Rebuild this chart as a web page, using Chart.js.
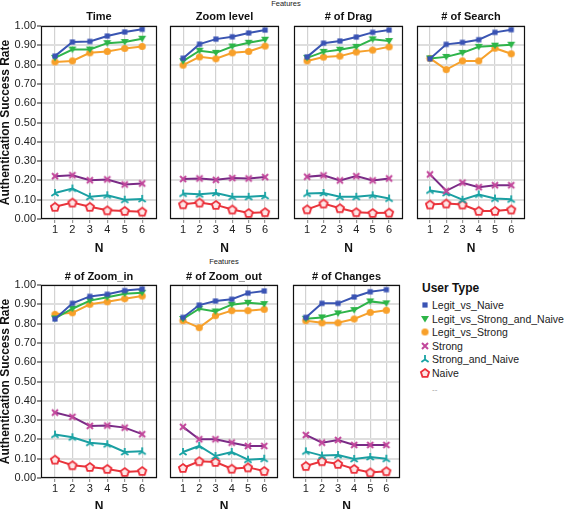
<!DOCTYPE html>
<html>
<head>
<meta charset="utf-8">
<script src="https://cdn.jsdelivr.net/npm/chart.js@4.4.1/dist/chart.umd.min.js"></script>
<style>
  html, body { margin: 0; padding: 0; background: #fff; overflow: hidden; }
  body { width: 565px; height: 509px; position: relative; font-family: "Liberation Sans", Arial, sans-serif; color: #222; }
  canvas.panel { position: absolute; }
  .txt { position: absolute; white-space: nowrap; }
</style>
</head>
<body>
<div class="txt" style="left:256px;top:0px;width:60px;text-align:center;font-size:7.5px;line-height:8px;">Features</div>
<div class="txt" style="left:194px;top:258px;width:60px;text-align:center;font-size:7.5px;line-height:8px;">Features</div>
<div id="legend"></div>

<script>
// ---- data ----
const nValues = [1, 2, 3, 4, 5, 6];
const yTicks = [0, 0.1, 0.2, 0.3, 0.4, 0.5, 0.6, 0.7, 0.8, 0.9, 1.0];
const features = ['Time', 'Zoom level', '# of Drag', '# of Search', '# of Zoom_in', '# of Zoom_out', '# of Changes'];
const userTypes = ['Legit_vs_Naive', 'Legit_vs_Strong_and_Naive', 'Legit_vs_Strong', 'Strong', 'Strong_and_Naive', 'Naive'];

// one row per feature, in the order of `features`
const legitVsNaive = [
  [0.844, 0.917, 0.920, 0.948, 0.969, 0.983],
  [0.833, 0.906, 0.932, 0.944, 0.964, 0.979],
  [0.840, 0.911, 0.922, 0.943, 0.967, 0.979],
  [0.830, 0.905, 0.915, 0.929, 0.967, 0.981],
  [0.824, 0.905, 0.941, 0.952, 0.971, 0.979],
  [0.832, 0.896, 0.917, 0.926, 0.958, 0.969],
  [0.832, 0.905, 0.905, 0.938, 0.965, 0.976]
];
const legitVsStrongAndNaive = [
  [0.835, 0.878, 0.878, 0.911, 0.917, 0.934],
  [0.818, 0.872, 0.861, 0.894, 0.913, 0.929],
  [0.835, 0.866, 0.877, 0.892, 0.931, 0.922],
  [0.832, 0.840, 0.861, 0.892, 0.898, 0.903],
  [0.827, 0.877, 0.919, 0.936, 0.955, 0.960],
  [0.824, 0.877, 0.863, 0.898, 0.908, 0.901],
  [0.825, 0.832, 0.853, 0.870, 0.915, 0.905]
];
const legitVsStrong = [
  [0.814, 0.819, 0.861, 0.868, 0.884, 0.894],
  [0.797, 0.840, 0.830, 0.861, 0.868, 0.896],
  [0.819, 0.839, 0.844, 0.865, 0.875, 0.892],
  [0.832, 0.774, 0.819, 0.819, 0.885, 0.856],
  [0.848, 0.856, 0.900, 0.913, 0.929, 0.943],
  [0.815, 0.779, 0.841, 0.867, 0.867, 0.874],
  [0.815, 0.804, 0.804, 0.824, 0.858, 0.869]
];
const strong = [
  [0.222, 0.227, 0.201, 0.205, 0.179, 0.184],
  [0.207, 0.210, 0.203, 0.212, 0.210, 0.217],
  [0.219, 0.226, 0.200, 0.222, 0.200, 0.210],
  [0.231, 0.146, 0.188, 0.165, 0.175, 0.175],
  [0.339, 0.317, 0.270, 0.272, 0.261, 0.227],
  [0.265, 0.201, 0.201, 0.183, 0.166, 0.166],
  [0.223, 0.183, 0.197, 0.171, 0.171, 0.171]
];
const strongAndNaive = [
  [0.135, 0.158, 0.115, 0.123, 0.100, 0.104],
  [0.132, 0.128, 0.135, 0.115, 0.115, 0.120],
  [0.132, 0.135, 0.115, 0.115, 0.123, 0.106],
  [0.148, 0.135, 0.100, 0.127, 0.106, 0.102],
  [0.225, 0.211, 0.183, 0.175, 0.135, 0.138],
  [0.135, 0.166, 0.114, 0.135, 0.095, 0.100],
  [0.138, 0.116, 0.119, 0.099, 0.109, 0.100]
];
const naive = [
  [0.063, 0.085, 0.063, 0.045, 0.042, 0.038],
  [0.076, 0.085, 0.073, 0.049, 0.031, 0.035],
  [0.050, 0.080, 0.056, 0.035, 0.031, 0.033],
  [0.075, 0.080, 0.075, 0.042, 0.042, 0.049],
  [0.095, 0.066, 0.057, 0.047, 0.031, 0.036],
  [0.052, 0.087, 0.083, 0.048, 0.055, 0.036],
  [0.062, 0.087, 0.073, 0.047, 0.029, 0.035]
];
const seriesByType = [legitVsNaive, legitVsStrongAndNaive, legitVsStrong, strong, strongAndNaive, naive];

// ---- styling / layout ----
const FONT = '"Liberation Sans", Arial, sans-serif';
Chart.defaults.font.family = FONT;
Chart.defaults.color = '#222';

const lineColors = ['#3a55b2', '#2fb44a', '#f6a12c', '#7a2b86', '#1b9fa2', '#e8343b'];

// plot-area boxes of the 7 panels (left, right) per row
const panelBoxes = [
  { left: 41, right: 162, row: 0 },
  { left: 164, right: 284, row: 0 },
  { left: 288, right: 408, row: 0 },
  { left: 411, right: 530, row: 0 },
  { left: 41, right: 162, row: 1 },
  { left: 164, right: 283, row: 1 },
  { left: 287, right: 405, row: 1 }
];
const rowTops = [8, 267];
const titlePad = [{ top: 2.4, bottom: 2.4 }, { top: 3.4, bottom: 1.4 }];
const nTitleShift = [-4, -3];

function markerCanvas(size, draw) {
  const c = document.createElement('canvas');
  c.width = size;
  c.height = size;
  const ctx = c.getContext('2d');
  ctx.translate(size / 2, size / 2);
  draw(ctx);
  return c;
}

const markers = [
  markerCanvas(8, ctx => { ctx.fillStyle = '#3a53b4'; ctx.fillRect(-2.6, -2.6, 5.2, 5.2); }),
  markerCanvas(10, ctx => {
    ctx.fillStyle = '#2db548';
    ctx.beginPath(); ctx.moveTo(-4, -3); ctx.lineTo(4, -3); ctx.lineTo(0, 3.6); ctx.closePath(); ctx.fill();
  }),
  markerCanvas(9, ctx => { ctx.fillStyle = '#f8a02a'; ctx.beginPath(); ctx.arc(0, 0, 3.6, 0, Math.PI * 2); ctx.fill(); }),
  markerCanvas(10, ctx => {
    ctx.strokeStyle = '#c2479b'; ctx.lineWidth = 2;
    ctx.beginPath(); ctx.moveTo(-3, -3); ctx.lineTo(3, 3); ctx.moveTo(3, -3); ctx.lineTo(-3, 3); ctx.stroke();
  }),
  markerCanvas(10, ctx => {
    ctx.strokeStyle = '#17a3a4'; ctx.lineWidth = 1.8;
    ctx.beginPath();
    ctx.moveTo(0, 0.5); ctx.lineTo(0, -4);
    ctx.moveTo(0, 0.5); ctx.lineTo(-3.6, 3);
    ctx.moveTo(0, 0.5); ctx.lineTo(3.6, 3);
    ctx.stroke();
  }),
  markerCanvas(12, ctx => {
    ctx.strokeStyle = '#ec2f3a'; ctx.lineWidth = 1.8; ctx.fillStyle = '#fde6e6';
    ctx.beginPath();
    for (let k = 0; k < 5; k++) {
      const a = -Math.PI / 2 + k * 2 * Math.PI / 5;
      const px = 4.3 * Math.cos(a), py = 4.3 * Math.sin(a) + 0.4;
      if (k === 0) ctx.moveTo(px, py); else ctx.lineTo(px, py);
    }
    ctx.closePath(); ctx.fill(); ctx.stroke();
  })
];

const framePlugin = {
  id: 'frame',
  afterDraw(chart) {
    const { ctx, chartArea: a } = chart;
    ctx.save();
    ctx.strokeStyle = '#111';
    ctx.lineWidth = 1.2;
    ctx.strokeRect(a.left + 0.5, a.top + 0.5, a.right - a.left - 1, a.bottom - a.top - 1);
    ctx.restore();
  }
};

panelBoxes.forEach((box, i) => {
  const firstInRow = i === 0 || i === 4;
  const yw = firstInRow ? 41 : 0;
  const plotW = box.right - box.left;
  const canvas = document.createElement('canvas');
  canvas.className = 'panel';
  const cw = yw + plotW + 1;
  const ch = 244;
  canvas.width = cw;
  canvas.height = ch;
  canvas.style.width = cw + 'px';
  canvas.style.height = ch + 'px';
  canvas.style.left = (box.left - yw) + 'px';
  canvas.style.top = rowTops[box.row] + 'px';
  document.body.appendChild(canvas);

  const datasets = userTypes.map((name, t) => ({
    label: name,
    data: seriesByType[t][i],
    borderColor: lineColors[t],
    backgroundColor: lineColors[t],
    borderWidth: 2,
    pointStyle: markers[t],
    pointRadius: 4,
    tension: 0,
    fill: false
  }));

  new Chart(canvas, {
    type: 'line',
    data: { labels: nValues, datasets },
    options: {
      responsive: false,
      animation: false,
      events: [],
      layout: { padding: { left: 0, right: 1, top: 0, bottom: 0 } },
      plugins: {
        legend: { display: false },
        tooltip: { enabled: false },
        title: {
          display: true,
          text: features[i],
          fullSize: false,
          color: '#111',
          font: { size: 11, weight: 'bold', lineHeight: 1.2 },
          padding: titlePad[box.row]
        }
      },
      scales: {
        x: {
          type: 'linear',
          min: 0.2,
          max: 6.85,
          afterBuildTicks: s => { s.ticks = nValues.map(v => ({ value: v })); },
          afterFit: s => { s.height = 33; },
          border: { display: false },
          grid: { color: '#d2d2d2', lineWidth: 1.2, drawTicks: true, tickLength: 4, tickColor: '#999' },
          ticks: { padding: 0, font: { size: 11 }, color: '#222', maxRotation: 0 },
          title: { display: true, text: 'N', color: '#111', font: { size: 12, weight: 'bold', lineHeight: 1.2 }, padding: { top: 0, bottom: nTitleShift[box.row] } }
        },
        y: {
          min: 0,
          max: 1,
          afterBuildTicks: s => { s.ticks = yTicks.map(v => ({ value: v })); },
          afterFit: s => { s.width = yw; },
          border: { display: false },
          grid: { color: '#dedede', lineWidth: 2, drawTicks: firstInRow, tickLength: 4, tickColor: '#222', tickWidth: 1 },
          ticks: { display: firstInRow, padding: 1, font: { size: 11 }, color: '#222', callback: v => Number(v).toFixed(2) },
          title: {
            display: firstInRow,
            text: 'Authentication Success Rate',
            color: '#111',
            font: { size: 12, weight: 'bold', lineHeight: 1 },
            padding: { top: 0, bottom: 0 }
          }
        }
      }
    },
    plugins: [framePlugin]
  });
});

// ---- legend ----
const legend = document.getElementById('legend');
const head = document.createElement('div');
head.className = 'txt';
head.style.cssText = 'left:422px;top:280px;font-size:12px;font-weight:bold;line-height:16px;color:#111;';
head.textContent = 'User Type';
legend.appendChild(head);

userTypes.forEach((name, t) => {
  const cy = 305 + 13.5 * t;
  const m = document.createElement('canvas');
  m.width = 12; m.height = 12;
  m.style.cssText = 'position:absolute;left:419px;top:' + (cy - 6) + 'px;width:12px;height:12px;';
  const mctx = m.getContext('2d');
  const src = markers[t];
  mctx.drawImage(src, 6 - src.width / 2, 6 - src.height / 2);
  legend.appendChild(m);

  const label = document.createElement('div');
  label.className = 'txt';
  label.style.cssText = 'left:432px;top:' + (cy - 7) + 'px;font-size:10.5px;line-height:14px;';
  label.textContent = name;
  legend.appendChild(label);
});

const dots = document.createElement('div');
dots.className = 'txt';
dots.style.cssText = 'left:432px;top:386px;font-size:8px;line-height:8px;color:#999;';
dots.textContent = '--';
legend.appendChild(dots);
</script>
</body>
</html>
